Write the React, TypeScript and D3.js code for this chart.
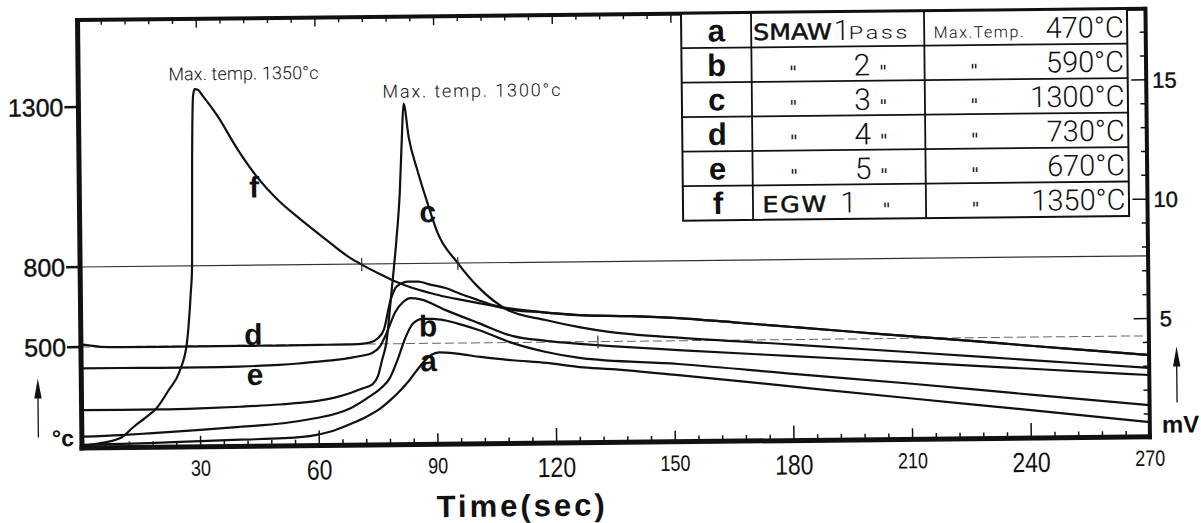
import React from "react";
import * as d3 from "d3";

// ---- data -------------------------------------------------------------
const seriesKeys = ["a", "b", "c", "d", "e", "f"];
const weldProcess = ["SMAW", "", "", "", "", "EGW"];
const passNumbers = ["1", "2", "3", "4", "5", "1"];
const maxTempValues = [470, 590, 1300, 730, 670, 1350];

const xTickLabels = [30, 60, 90, 120, 150, 180, 210, 240, 270];
const tempTickLabels = [500, 800, 1300];
const mvTickLabels = [5, 10, 15];

const aTime = [0, 10, 17, 30, 40, 51, 59, 64, 68, 72, 75, 78, 80, 83, 86, 88.5, 90.5, 95, 101, 109, 117.6, 126, 134, 151, 180, 210, 240, 270];
const aTemp = [15, 18, 21, 28, 33, 38, 52, 75, 105, 140, 173, 220, 256, 320, 395, 442, 455, 448, 430, 412, 397, 375, 363, 330, 267, 202, 138, 73];

const bTime = [0, 10, 17, 30, 40, 51, 59, 64, 68, 72.8, 76, 78, 80, 82, 84, 86.5, 89, 92.3, 96, 100.6, 109, 117.6, 126, 151, 180, 210, 240, 270];
const bTemp = [56, 62, 69, 84, 97, 112, 135, 155, 183, 239, 285, 330, 420, 520, 575, 592, 592, 585, 570, 548, 498, 451, 420, 385, 330, 275, 215, 157];

const cTime = [0, 10, 20, 30, 40, 50, 55, 60, 64, 68, 71, 73.6, 75, 76.1, 77.2, 78.7, 80, 81, 81.7, 82.2, 83.4, 85.5, 88, 90.5, 95.5, 100.6, 108, 117.5, 126, 134, 151, 180, 210, 240, 270];
const cTemp = [188, 187, 187, 190, 196, 205, 212, 222, 236, 258, 280, 300, 340, 420, 503, 701, 870, 1021, 1200, 1300, 1195, 1092, 988, 894, 800, 709, 622, 583, 555, 535, 512, 475, 431, 386, 341];

const dTime = [0, 2, 5, 10, 20, 30, 40, 50, 60, 70, 73, 75, 76.6, 78.4, 80, 83, 85.5, 88, 92.3, 96, 100.6, 104, 109, 117, 126, 139, 151, 165, 180, 195, 210, 225, 240, 255, 270];
const dTemp = [510, 506, 500, 497, 497, 497, 497, 497, 498, 500, 505, 520, 552, 664, 715, 732, 732, 722, 707, 685, 660, 642, 622, 612, 600, 594, 585, 567, 547, 527, 507, 484, 457, 431, 405];

const eTime = [0, 10, 20, 30, 40, 50, 55, 60, 65, 68, 71, 73.6, 75.5, 77.3, 79.6, 81.5, 83.5, 86, 92.3, 100.6, 109, 117.6, 126, 134, 151, 180, 210, 240, 270];
const eTemp = [394, 394, 393, 393, 395, 401, 407, 415, 424, 432, 442, 455, 485, 540, 620, 655, 670, 665, 624, 574, 525, 505, 490, 477, 454, 418, 381, 343, 306];

const fTime = [0, 5, 10, 13, 16, 19, 22, 25, 26.8, 27.9, 28.3, 28.6, 29.0, 29.4, 30.2, 31.5, 35, 40, 45, 50, 56, 62, 68, 71.3, 76, 80, 84, 88.4, 92, 96.7, 101, 108, 117, 126, 139, 151, 165, 180, 195, 210, 225, 240, 255, 270];
const fTemp = [10, 24, 50, 100, 145, 194, 280, 381, 511, 698, 795, 1131, 1330, 1352, 1350, 1330, 1270, 1165, 1075, 1005, 940, 880, 822, 797, 760, 731, 708, 689, 675, 661, 648, 629, 612, 600, 594, 585, 567, 547, 527, 507, 484, 457, 431, 405];

const markerTimes = [71.2, 95.5, 130.7];
const markerTemps = [800, 800, 500];

// ---- fonts --------------------------------------------------------------
const SANS = "'Liberation Sans', Arial, 'DejaVu Sans', sans-serif";
const THIN = "Roboto, 'Open Sans', 'DejaVu Sans', sans-serif";
const DIN = "'DejaVu Sans', 'Liberation Sans', sans-serif";

type Pt = { t: number; T: number };
const zip = (ts: number[], vs: number[]): Pt[] => ts.map((t, i) => ({ t, T: vs[i] }));

export default function App() {
  const x = d3.scaleLinear().domain([0, 270]).range([82, 1150]);
  const y = d3.scaleLinear().domain([0, 500, 800, 1300]).range([448, 347, 267, 107]);
  const mv = d3.scaleLinear().domain([0, 15]).range([449, 91]);

  const left = x(0), right = x(270), bottom = y(0), top = 20;

  const series: Pt[][] = [
    zip(aTime, aTemp),
    zip(bTime, bTemp),
    zip(cTime, cTemp),
    zip(dTime, dTemp),
    zip(eTime, eTemp),
    zip(fTime, fTemp),
  ];

  const line = d3
    .line<Pt>()
    .x((d) => x(d.t))
    .y((d) => y(d.T))
    .curve(d3.curveMonotoneX);

  // curve label anchors (time, temperature) - annotation placement
  const curveLabels: { k: string; t: number; T: number }[] = [
    { k: "a", t: 87.8, T: 362 },
    { k: "b", t: 87.8, T: 526 },
    { k: "c", t: 88, T: 929 },
    { k: "d", t: 43.6, T: 501 },
    { k: "e", t: 43.9, T: 303 },
    { k: "f", t: 44.2, T: 1012 },
  ];

  const bottomTicks = d3.range(6, 270, 6);
  const topTicks = d3.range(6, 270, 6).filter((t) => x(t) < 684);
  const mvTicks = d3.range(1, 18);

  // table geometry
  const colEdges = [685.5, 755.5, 928.5, 1131.5];
  const rows = d3.scaleBand<string>().domain(seriesKeys).range([top, 227]);

  const stroke = "#111";
  const ditto = (key: string, cx: number, ry: number) => (
    <text key={key} x={cx} y={ry + 31} textAnchor="middle" fontFamily={DIN} fontStyle="italic" fontSize={17} fill={stroke}>
      "
    </text>
  );

  return (
    <svg
      width={1201}
      height={523}
      style={{ position: "absolute", left: 0, top: 0, background: "#fff" }}
    >
      <rect x={0} y={0} width={1201} height={523} fill="#fff" />
      <g transform={`rotate(-0.6, ${left}, ${bottom})`}>
        {/* reference lines */}
        <line x1={left} x2={right} y1={y(800)} y2={y(800)} stroke="#333" strokeWidth={1.2} />
        <line x1={left} x2={right} y1={y(500)} y2={y(500)} stroke="#666" strokeWidth={1} strokeDasharray="9 4" />

        {/* curves */}
        {series.map((s, i) => (
          <path key={i} d={line(s) || ""} fill="none" stroke={stroke} strokeWidth={2.2} strokeLinejoin="round" />
        ))}

        {/* small markers */}
        {markerTimes.map((t, i) => (
          <line key={i} x1={x(t)} x2={x(t)} y1={y(markerTemps[i]) - 6} y2={y(markerTemps[i]) + 7} stroke="#333" strokeWidth={1.2} />
        ))}

        {/* frame */}
        <line x1={left} x2={right} y1={top} y2={top} stroke={stroke} strokeWidth={4} />
        <line x1={left} x2={left} y1={top - 2} y2={bottom + 2.5} stroke={stroke} strokeWidth={5} />
        <line x1={left - 2.5} x2={right + 2} y1={bottom} y2={bottom} stroke={stroke} strokeWidth={5} />
        <line x1={right} x2={right} y1={top - 2} y2={bottom + 2.5} stroke={stroke} strokeWidth={4} />

        {/* bottom ticks */}
        {bottomTicks.map((t) => {
          const len = t % 60 === 0 ? 15 : t % 30 === 0 ? 11 : 6;
          return <line key={t} x1={x(t)} x2={x(t)} y1={bottom} y2={bottom - len} stroke={stroke} strokeWidth={1.5} />;
        })}
        {/* top ticks */}
        {topTicks.map((t) => {
          const len = t % 30 === 0 ? 9 : 5;
          return <line key={t} x1={x(t)} x2={x(t)} y1={top} y2={top + len} stroke={stroke} strokeWidth={1.4} />;
        })}
        {/* right mV ticks */}
        {mvTicks.map((v) => {
          const len = v % 5 === 0 ? 15 : 6;
          return <line key={v} x1={right} x2={right - len} y1={mv(v)} y2={mv(v)} stroke={stroke} strokeWidth={1.5} />;
        })}
        {/* left ticks */}
        {tempTickLabels.map((v) => (
          <line key={v} x1={left - 14} x2={left} y1={y(v)} y2={y(v)} stroke={stroke} strokeWidth={2.5} />
        ))}

        {/* left labels */}
        {tempTickLabels.map((v) => (
          <text key={v} x={left - 15} y={y(v) + 9} textAnchor="end" fontFamily={SANS} fontSize={25} stroke={stroke} strokeWidth={0.4} fill={stroke}>
            {v}
          </text>
        ))}
        <text x={52} y={446} fontFamily={SANS} fontWeight="bold" fontSize={23} fill={stroke}>°c</text>
        <line x1={38.5} x2={38.5} y1={437} y2={392} stroke={stroke} strokeWidth={1.3} />
        <path d="M38.5,378 L34.8,398 L42.2,398 Z" fill={stroke} />

        {/* right labels */}
        {mvTickLabels.map((v) => (
          <text key={v} x={v < 10 ? 1161 : 1156} y={mv(v) + 8} fontFamily={SANS} fontSize={22} stroke={stroke} strokeWidth={0.4} fill={stroke}>
            {v}
          </text>
        ))}
        <text x={1162} y={444} fontFamily={SANS} fontWeight="bold" fontSize={24} fill={stroke}>mV</text>
        <line x1={1177.5} x2={1177.5} y1={414} y2={372} stroke={stroke} strokeWidth={1.3} />
        <path d="M1177.5,358 L1173.8,378 L1181.2,378 Z" fill={stroke} />

        {/* bottom labels (narrow lettering) */}
        {xTickLabels.map((t) => {
          const big = t % 60 === 0;
          return (
            <text
              key={t}
              transform={`translate(${x(t)},${big ? 482 : 477}) scale(0.82,1)`}
              textAnchor="middle"
              fontFamily={SANS}
              fontSize={big ? 28 : 22}
              fill={stroke}
            >
              {t}
            </text>
          );
        })}
        <text x={436} y={521} fontFamily={SANS} fontWeight="bold" fontSize={31} textLength={168} lengthAdjust="spacing" fill={stroke}>
          Time(sec)
        </text>

        {/* peak annotations */}
        <text x={x(29.4) - 26} y={y(1352) - 9} fontFamily={THIN} fontWeight={300} fontSize={18} textLength={150} lengthAdjust="spacing" fill={stroke}>
          Max. temp. {maxTempValues[5]}°c
        </text>
        <text x={x(82.2) - 21} y={y(1300) - 6} fontFamily={THIN} fontWeight={300} fontSize={18} textLength={178} lengthAdjust="spacing" fill={stroke}>
          Max. temp. {maxTempValues[2]}°c
        </text>

        {/* curve labels */}
        {curveLabels.map((l) => (
          <text key={l.k} x={x(l.t)} y={y(l.T)} textAnchor="middle" fontFamily={SANS} fontWeight="bold" fontSize={30} fill={stroke}>
            {l.k}
          </text>
        ))}

        {/* table */}
        <rect x={colEdges[0]} y={top} width={colEdges[3] - colEdges[0]} height={227 - top} fill="#fff" stroke={stroke} strokeWidth={2} />
        {seriesKeys.slice(1).map((k) => (
          <line key={k} x1={colEdges[0]} x2={colEdges[3]} y1={rows(k)!} y2={rows(k)!} stroke={stroke} strokeWidth={1.8} />
        ))}
        {colEdges.slice(1, 3).map((cx, i) => (
          <line key={i} x1={cx} x2={cx} y1={top} y2={227} stroke={stroke} strokeWidth={1.8} />
        ))}
        {seriesKeys.map((k, i) => {
          const ry = rows(k)!;
          const cells: React.ReactNode[] = [];
          cells.push(
            <text key="k" x={(colEdges[0] + colEdges[1]) / 2} y={ry + 28} textAnchor="middle" fontFamily={SANS} fontWeight="bold" fontSize={31} fill={stroke}>
              {k}
            </text>
          );
          if (i === 0) {
            cells.push(
              <text key="p" transform={`translate(757.5,${ry + 27}) scale(1.15,1)`} fontFamily={DIN} fontSize={22} stroke={stroke} strokeWidth={0.5} fill={stroke}>
                {weldProcess[i]}
              </text>,
              <text key="n" x={846} y={ry + 28} textAnchor="middle" fontFamily={THIN} fontWeight={300} fontSize={28} fill={stroke}>
                {passNumbers[i]}
              </text>,
              <text key="s" transform={`translate(853,${ry + 27}) scale(1.3,1)`} fontFamily={THIN} fontWeight={300} fontSize={18} textLength={45} lengthAdjust="spacing" fill={stroke}>
                Pass
              </text>,
              <text key="m" x={938} y={ry + 27} fontFamily={THIN} fontWeight={300} fontSize={16} textLength={90} lengthAdjust="spacing" fill={stroke}>
                Max.Temp.
              </text>
            );
          } else if (weldProcess[i]) {
            cells.push(
              <text key="p" transform={`translate(765,${ry + 27}) scale(1.15,1)`} fontFamily={DIN} fontSize={22} letterSpacing={1.5} stroke={stroke} strokeWidth={0.5} fill={stroke}>
                {weldProcess[i]}
              </text>,
              <text key="n" x={851} y={ry + 28} textAnchor="middle" fontFamily={THIN} fontWeight={300} fontSize={29} fill={stroke}>
                {passNumbers[i]}
              </text>,
              ditto("d2", 889, ry),
              ditto("d3", 978, ry)
            );
          } else {
            cells.push(
              ditto("d1", 797, ry),
              <text key="n" x={866} y={ry + 29} textAnchor="middle" fontFamily={THIN} fontWeight={300} fontSize={30} fill={stroke}>
                {passNumbers[i]}
              </text>,
              ditto("d2", 887, ry),
              ditto("d3", 978, ry)
            );
          }
          cells.push(
            <text key="v" x={1128} y={ry + 28} textAnchor="end" fontFamily={THIN} fontWeight={300} fontSize={29} fill={stroke}>
              {maxTempValues[i]}°C
            </text>
          );
          return <g key={k}>{cells}</g>;
        })}
      </g>
    </svg>
  );
}
